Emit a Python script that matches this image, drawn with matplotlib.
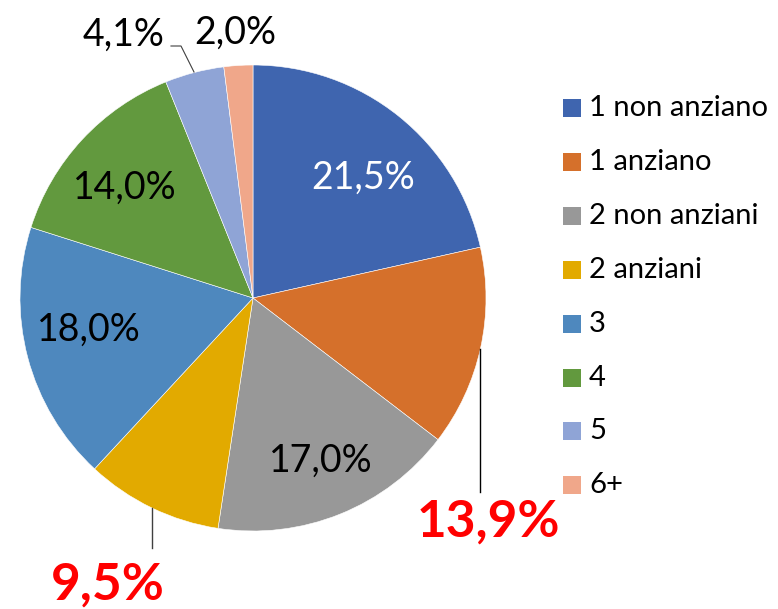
import matplotlib
matplotlib.use("Agg")
import matplotlib.pyplot as plt

# data
categories = ["1 non anziano", "1 anziano", "2 non anziani", "2 anziani", "3", "4", "5", "6+"]
values = [21.5, 13.9, 17.0, 9.5, 18.0, 14.0, 4.1, 2.0]
colours = ["#3F65AF", "#D5702B", "#989898", "#E2AA00", "#4E88BE", "#62993E", "#8FA4D6", "#F0A78A"]

W, H = 778, 609
plt.rcParams['font.family'] = ['Lato', 'DejaVu Sans']

fig = plt.figure(figsize=(W / 100, H / 100), dpi=100)
ax = fig.add_axes([0, 0, 1, 1])

# pie in pixel coordinates (y up)
cx, cy, R = 253, H - 298, 233
wedges, _ = ax.pie(values, colors=colours, startangle=90, counterclock=False,
                   center=(cx, cy), radius=R, frame=True,
                   wedgeprops=dict(linewidth=0.4, edgecolor='white'))
ax.set_xlim(0, W)
ax.set_ylim(0, H)
ax.set_aspect('equal')
ax.axis('off')

def fmt(v):
    return f"{v:.1f}".replace('.', ',') + '%'

# label positions (pixel, from top), colour, size, weight
label_style = [
    ((363, 178), 'white', 27, 'normal'),
    ((488, 522), '#FF0000', 37, 'bold'),
    ((321, 461), 'black', 27, 'normal'),
    ((108, 585), '#FF0000', 37, 'bold'),
    ((89, 330), 'black', 27, 'normal'),
    ((125, 188), 'black', 27, 'normal'),
    ((124, 35), 'black', 27, 'normal'),
    ((235, 33), 'black', 27, 'normal'),
]
for v, (pos, c, s, w) in zip(values, label_style):
    ax.text(pos[0], H - pos[1], fmt(v), color=c, fontsize=s, fontweight=w,
            ha='center', va='center')

# leader lines
ax.plot([480, 480], [H - 349, H - 492], color='black', lw=1)
ax.plot([152, 152], [H - 508, H - 548], color='#404040', lw=1)
ax.plot([171, 181, 194], [H - 46, H - 46, H - 72], color='#404040', lw=0.8)

# legend
for i, (name, c) in enumerate(zip(categories, colours)):
    y = H - (108 + i * 53.9)
    ax.add_patch(plt.Rectangle((563, y - 9), 18, 18, facecolor=c, edgecolor='none'))
    ax.text(589, y, name, fontsize=21, va='center', ha='left', color='black')

fig.savefig("out.png", dpi=100)
